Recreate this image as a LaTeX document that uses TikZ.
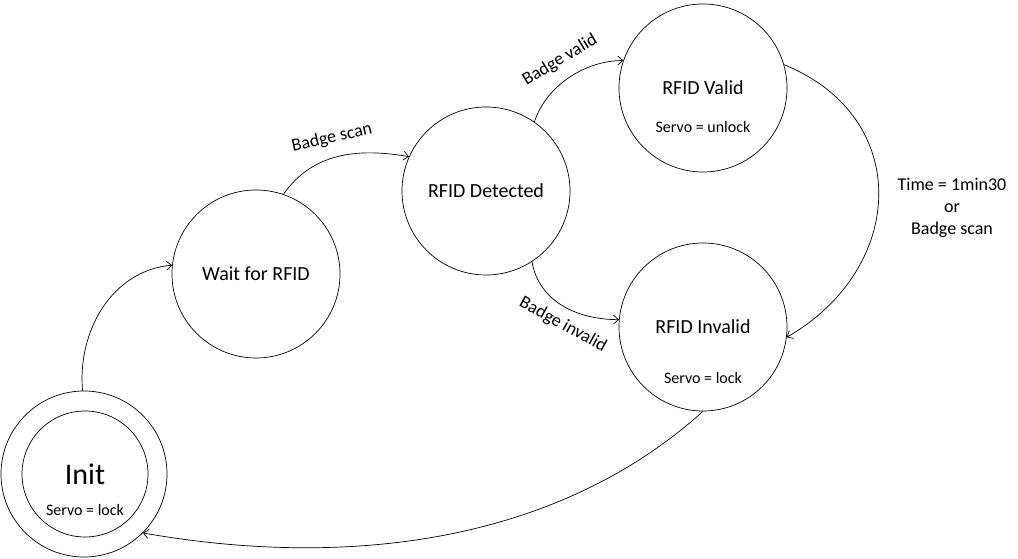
\documentclass[tikz,border=0pt]{standalone}
\usepackage{fontspec}
\setmainfont{Carlito}
\usetikzlibrary{arrows.meta}
\begin{document}
\begin{tikzpicture}[x=1pt,y=1pt, line width=0.7pt,
  >={Straight Barb[length=5pt,width=9pt]},
  state/.style={draw, circle, minimum size=168pt, inner sep=0pt, font=\fontsize{20}{24}\selectfont},
  servo/.style={font=\fontsize{16}{19}\selectfont},
  trans/.style={font=\fontsize{18}{22}\selectfont}]
\useasboundingbox (0,0) rectangle (1018,559);
% states
\node[draw, circle, minimum size=166pt] (init) at (84,85) {};
\node[draw, circle, minimum size=126pt, font=\fontsize{30}{36}\selectfont] (initin) at (85,85) {Init};
\node[servo] (initservo) at (85,49) {Servo = lock};
\node[state] (wait) at (256,285) {Wait for RFID};
\node[state] (detected) at (486,368) {RFID Detected};
\node[state] (valid) at (703,471) {RFID Valid};
\node[servo] (validservo) at (703,432) {Servo = unlock};
\node[state] (invalid) at (703,232) {RFID Invalid};
\node[servo] (invalidservo) at (703,181) {Servo = lock};
% transition labels
\node[trans, rotate=13] (lblscan) at (332,421) {Badge scan};
\node[trans, rotate=31] (lblvalid) at (560,499) {Badge valid};
\node[trans, rotate=-29] (lblinvalid) at (563,234) {Badge invalid};
\node[trans, align=center] (lbltime) at (952,351) {Time = 1min30\\or\\Badge scan};
% transitions
\draw[->] (init.91) to[out=95,in=185] (wait.174);
\draw[->] (wait.71) to[out=55,in=170] (detected.156);
\draw[->] (detected.55) to[out=72,in=180,looseness=0.9] (valid.161);
\draw[->] (detected.-57) to[out=-80,in=180] (invalid.175);
\draw[->] (valid.16) to[out=-22,in=30,looseness=1.3] (invalid.-7);
\draw[->] (invalid.-90) to[out=222,in=-10,looseness=0.9] (init.-45);
\end{tikzpicture}
\end{document}
